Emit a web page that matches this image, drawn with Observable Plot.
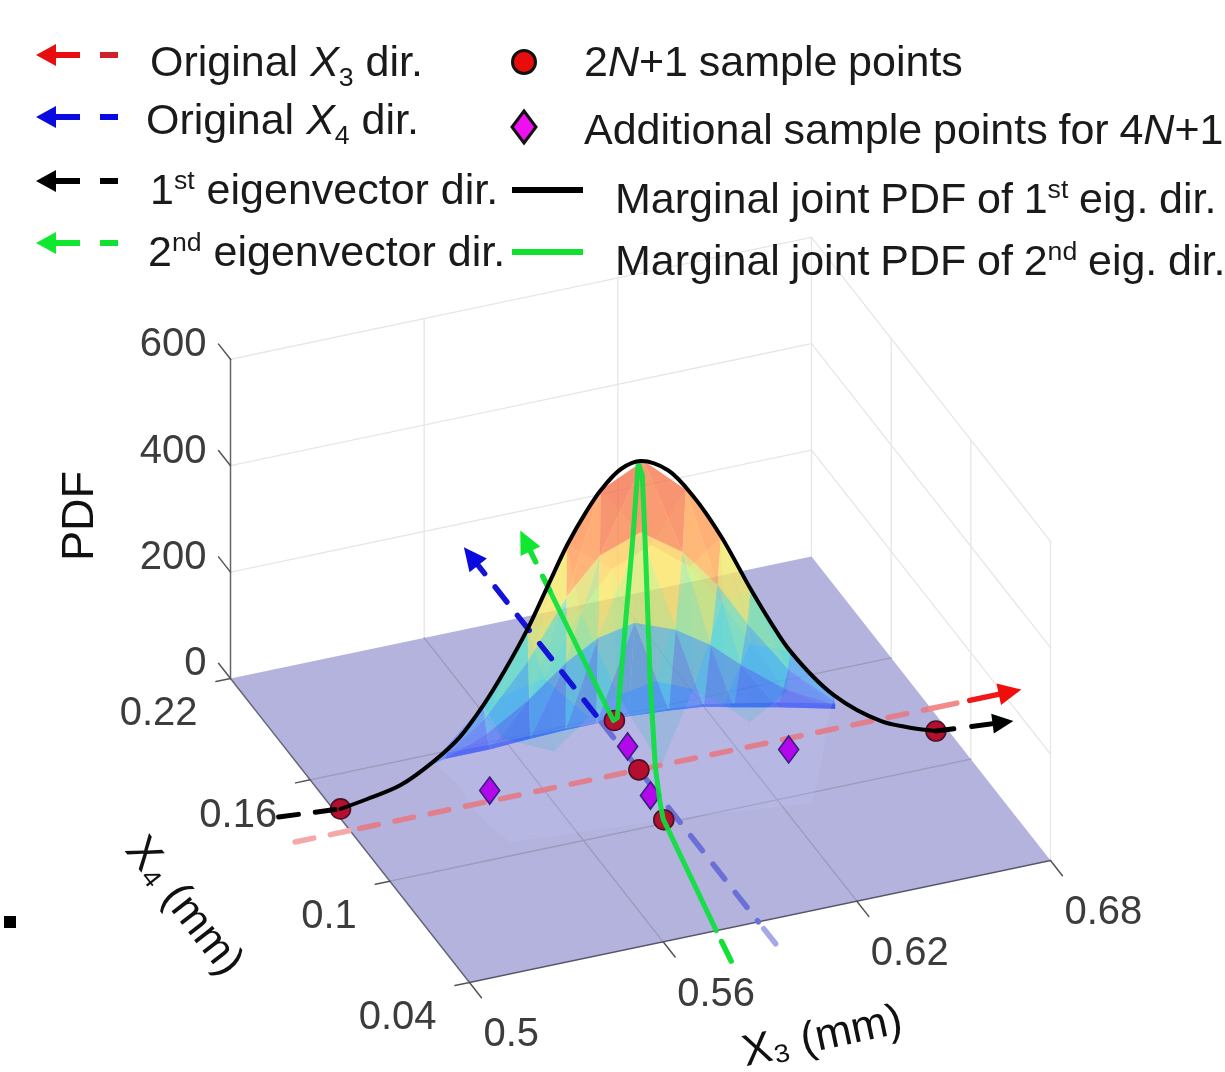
<!DOCTYPE html>
<html><head><meta charset="utf-8">
<script src="https://cdn.jsdelivr.net/npm/d3@7"></script>
<script src="https://cdn.jsdelivr.net/npm/@observablehq/plot@0.6"></script>
<style>
html,body{margin:0;padding:0;background:#fff;overflow:hidden;width:1225px;height:1072px}
#wrap{position:relative;width:1225px;height:1072px;overflow:hidden;font-family:"Liberation Sans",Arial,sans-serif;color:#1a1a1a;filter:blur(0.5px)}
#wrap svg{display:block}
.lg{position:absolute;white-space:nowrap;font-size:43px;line-height:50px;transform:translateY(-50%);margin-top:-1px}
.tight{word-spacing:-1.2px}
.lg sub,.lg sup{font-size:.62em;line-height:0}
#sw{position:absolute;left:0;top:0}
#sq{position:absolute;left:4px;top:916px;width:12px;height:12px;background:#000}
</style></head><body>
<div id="wrap"></div>
<script>
// ---- data (mm, mm, PDF) ----
const X3Ticks=[0.5,0.56,0.62,0.68];
const X4Ticks=[0.04,0.1,0.16,0.22];
const pdfTicks=[0,200,400,600];
const samplesX3=[0.502,0.5933,0.5895,0.5857,0.6766];
const samplesX4=[0.142,0.1577,0.130,0.102,0.118];
const extraX3=[0.5455,0.5914,0.5872,0.6336];
const extraX4=[0.1354,0.1431,0.1157,0.1244];
// positions along the 1st eigenvector line (0 and 1 = outer sample points) and marginal PDF
const eig1Pos=[0,0.045,0.101,0.156,0.2,0.24,0.277,0.314,0.348,0.3815,0.412,0.437,0.471,0.504,0.55,0.593,0.639,0.689,0.723,0.756,0.829,0.908,0.95,1];
const eig1Pdf=[0,12,30,66,105,160,222,292,368,442,497,535,570,580,556,500,419,312,244,185,92,32,15,0];
// positions along the 2nd eigenvector line and marginal PDF
const eig2Pos=[0.138,0.4368,0.4554,0.493,0.5305,0.554,0.5728,0.587,0.61,0.634,0.657,0.671,0.92];
const eig2Pdf=[0,0,20,224,429,580,572,450,216,73,24,6,0];
// coarse joint PDF surface
const surfT=[0.156,0.24,0.314,0.38,0.437,0.509,0.58,0.639,0.689,0.756,0.829];
const surfS=[0.4368,0.4554,0.493,0.5305,0.5494,0.587,0.61,0.634,0.657,0.671];
const surfPdf=[
[0,2,26,49,66,51,24,9,3,1],
[0,5,63,120,160,125,59,21,6,2],
[0,9,114,216,292,228,108,38,12,3],
[0,13,172,327,442,345,164,58,18,4],
[0,16,209,396,535,417,198,70,21,5],
[0,17,226,429,580,452,215,75,23,6],
[0,15,201,381,515,402,191,67,21,5],
[0,13,163,310,419,327,155,54,17,4],
[0,9,122,231,312,243,115,41,12,3],
[0,6,72,137,185,144,68,24,7,2],
[0,3,36,68,92,72,34,12,4,1]];
// rear cut-off edge of the surface on the floor, one point per row of surfPdf
const edgeX3=[0.5422,0.5553,0.5679,0.5786,0.5876,0.5971,0.6092,0.6195,0.6277,0.6399,0.6556];
const edgeX4=[0.1592,0.1587,0.1590,0.1588,0.1582,0.1585,0.1578,0.1566,0.1539,0.1496,0.1427];
// direction lines
const eig1Ends=[[0.502,0.142],[0.6766,0.118]];
const eig2Ends=[[0.608,0.2643],[0.5737,0.0205]];
const x4Const=0.13, x3Const=0.5895;

// ---- view (orthographic 3-D camera) ----
const U=v=>(v-0.5)/0.18, V=v=>(0.22-v)/0.18;
const P=(a,b,z=0)=>({x:230+U(a)*581+V(b)*239,y:678-U(a)*122+V(b)*304-z*0.532});
const lerp=(e,t)=>[e[0][0]+(e[1][0]-e[0][0])*t,e[0][1]+(e[1][1]-e[0][1])*t];
const E1=(t,z=0)=>{const q=lerp(eig1Ends,t);return P(q[0],q[1],z)};
const E2=(s,z=0)=>{const q=lerp(eig2Ends,s);return P(q[0],q[1],z)};
const T0=0.5008,S0=0.5494,SB=0.4368,SF=0.671;
const d2=[eig2Ends[1][0]-eig2Ends[0][0],eig2Ends[1][1]-eig2Ends[0][1]];
const vertex=(i,j)=>{
  const t=surfT[i],s=surfS[j],z=surfPdf[i][j];
  if(s<=S0){ // between the rear edge and the ridge
    const p=(s-SB)/(S0-SB),r=lerp(eig1Ends,t);
    return P(edgeX3[i]+(r[0]-edgeX3[i])*p,edgeX4[i]+(r[1]-edgeX4[i])*p,z);
  }
  const w=1-0.25*(s-S0)/(SF-S0),r=lerp(eig1Ends,T0+(t-T0)*w);
  return P(r[0]+(s-S0)*d2[0],r[1]+(s-S0)*d2[1],z);
};
// facets
const back=[],frontHi=[],frontLo=[];let id=0;
for(let i=0;i<surfT.length-1;i++)for(let j=0;j<surfS.length-1;j++){
  const c=[[i,j],[i+1,j],[i+1,j+1],[i,j+1]];
  const tris=i<5?[[0,1,2],[0,2,3]]:[[0,1,3],[1,2,3]];
  for(const tr of tris){
    const vs=tr.map(k=>c[k]);
    const v=d3.mean(vs,q=>surfPdf[q[0]][q[1]]);
    const tgt=j<4?back:(v<150?frontLo:frontHi);
    id++;
    for(const q of vs)tgt.push({...vertex(q[0],q[1]),id,v});
  }
}
const eig1Curve=eig1Pos.map((t,i)=>E1(t,eig1Pdf[i]));
const eig2Curve=eig2Pos.map((s,i)=>E2(s,eig2Pdf[i]));
const L=(pts,o)=>Plot.line(pts,{x:"x",y:"y",...o});
const seg=(a,b,o)=>L([a,b],o);
const grid={stroke:"#e6e6e6",strokeWidth:1.3};
const fg={stroke:"#9a9aba",strokeWidth:1.3};
const wallTop=600;
const headSym={draw(c,s){const r=Math.sqrt(s/Math.PI);c.moveTo(0,0);c.lineTo(-2.1*r,r);c.lineTo(-2.1*r,-r);c.closePath();}};
const diaSym={draw(c,s){const r=Math.sqrt(s/Math.PI);c.moveTo(0,-1.35*r);c.lineTo(r,0);c.lineTo(0,1.35*r);c.lineTo(-r,0);c.closePath();}};
const head=(from,tip,color,r=10)=>Plot.dot([tip],{x:"x",y:"y",r,symbol:headSym,fill:color,stroke:"none",rotate:Math.atan2(tip.y-from.y,tip.x-from.x)*180/Math.PI});

const x4Lab=b=>P(0.5,b), x3Lab=a=>P(a,0.04);
const chart=Plot.plot({
  width:1225,height:1072,margin:0,
  x:{domain:[0,1225],range:[0,1225],axis:null},
  y:{domain:[0,1072],range:[0,1072],axis:null},
  color:{type:"linear",domain:[0,70,130,200,270,340,420,580],range:["#2e40f2","#3a6ef6","#38aaf2","#4ce2dc","#b8f27c","#ffe860","#ff9a50","#ec5040"]},
  marks:[
    // walls
    ...pdfTicks.slice(1).map(z=>seg(P(0.5,0.22,z),P(0.68,0.22,z),grid)),
    ...pdfTicks.slice(1).map(z=>seg(P(0.68,0.22,z),P(0.68,0.04,z),grid)),
    ...X3Ticks.slice(1).map(a=>seg(P(a,0.22),P(a,0.22,wallTop),grid)),
    ...X4Ticks.slice(0,-1).map(b=>seg(P(0.68,b),P(0.68,b,wallTop),grid)),
    // floor
    L([P(0.5,0.22),P(0.68,0.22),P(0.68,0.04),P(0.5,0.04)],{fill:"#b3b3dd",stroke:"none"}),
    ...X3Ticks.slice(1,-1).map(a=>seg(P(a,0.22),P(a,0.04),fg)),
    ...X4Ticks.slice(1,-1).map(b=>seg(P(0.5,b),P(0.68,b),fg)),
    seg(P(0.5,0.22),P(0.5,0.04),{stroke:"#66667a",strokeWidth:1.5}),
    seg(P(0.5,0.04),P(0.68,0.04),{stroke:"#55556a",strokeWidth:1.5}),
    seg(P(0.5,0.22),P(0.5,0.22,wallTop),{stroke:"#666",strokeWidth:1.5}),
    // ticks
    ...X3Ticks.map(a=>seg(P(a,0.04),P(a,0.031),{stroke:"#555",strokeWidth:1.5})),
    ...X4Ticks.map(b=>seg(P(0.5,b),P(0.4955,b),{stroke:"#555",strokeWidth:1.5})),
    ...pdfTicks.map(z=>seg(P(0.5,0.22,z),P(0.5,0.229,z),{stroke:"#555",strokeWidth:1.5})),
    // surface
    L(back,{z:"id",fill:"v",stroke:"none",fillOpacity:0.72}),
    L(frontLo,{z:"id",fill:"#c4c8ff",stroke:"none",fillOpacity:0.2}),
    L(frontHi,{z:"id",fill:"v",stroke:"none",fillOpacity:0.2}),
    // X3 direction
    seg(P(0.483,x4Const),P(0.5,x4Const),{stroke:"#f4a9a9",strokeWidth:5.5,strokeDasharray:"19 17"}),
    seg(P(0.503,x4Const),P(0.68,x4Const),{stroke:"#e0808f",strokeWidth:5.5,strokeDasharray:"19 17"}),
    seg(P(0.68,x4Const),P(0.688,x4Const),{stroke:"#f38a8a",strokeWidth:5.5}),
    seg(P(0.692,x4Const),P(0.702,x4Const),{stroke:"#f01818",strokeWidth:5.5}),
    head(P(0.69,x4Const),P(0.708,x4Const),"#f20d0d",11),
    // X4 direction
    seg(P(x3Const,0.255),P(x3Const,0.158),{stroke:"#1414d8",strokeWidth:5.5,strokeDasharray:"19 17"}),
    seg(P(x3Const,0.158),P(x3Const,0.04),{stroke:"#6c70d6",strokeWidth:5.5,strokeDasharray:"19 17"}),
    seg(P(x3Const,0.036),P(x3Const,0.027),{stroke:"#a6a8e8",strokeWidth:5.5}),
    head(P(x3Const,0.25),P(x3Const,0.2618),"#0a0ae0",11),
    // samples
    Plot.dot(samplesX3.map((a,i)=>P(a,samplesX4[i])),{x:"x",y:"y",r:10,fill:"#b40f2e",stroke:"#4a1028",strokeWidth:1.6}),
    Plot.dot(extraX3.map((a,i)=>P(a,extraX4[i])),{x:"x",y:"y",r:10,symbol:diaSym,fill:"#b408ec",stroke:"#3a2080",strokeWidth:1.6}),
    // 2nd eigenvector
    L([E2(0.035),E2(0.138)],{stroke:"#14e036",strokeWidth:5.5,strokeDasharray:"18 16"}),
    L([E2(0.945),E2(0.99)],{stroke:"#14e036",strokeWidth:5.5}),
    head(E2(0.02),E2(0),"#10e830",11),
    L(eig2Curve,{stroke:"#0ce13e",strokeWidth:5,strokeOpacity:0.92,strokeLinejoin:"round"}),
    // 1st eigenvector
    L(eig1Curve,{stroke:"#000",strokeWidth:4,curve:"catmull-rom"}),
    L([E1(-0.104),E1(0)],{stroke:"#000",strokeWidth:5,strokeDasharray:"20 17"}),
    L([E1(1),E1(1.03)],{stroke:"#000",strokeWidth:5}),
    L([E1(1.06),E1(1.115)],{stroke:"#000",strokeWidth:5}),
    head(E1(1.1),E1(1.13),"#000",10),
    // tick labels
    Plot.text(pdfTicks.map(z=>({...P(0.5,0.22,z),t:String(z)})),{x:"x",y:"y",text:"t",textAnchor:"end",dx:-24,dy:-16,fontSize:40,fill:"#3c3c3c"}),
    Plot.text(X3Ticks.map(a=>({...x3Lab(a),t:String(a)})),{x:"x",y:"y",text:"t",textAnchor:"start",dx:14,dy:51,fontSize:40,fill:"#3c3c3c"}),
    Plot.text(X4Ticks.map(b=>({...x4Lab(b),t:String(b)})),{x:"x",y:"y",text:"t",textAnchor:"end",dx:-33,dy:34,fontSize:40,fill:"#3c3c3c"}),
    // axis titles
    Plot.text([{...P(0.5,0.22,300),t:"PDF"}],{x:"x",y:"y",text:"t",rotate:-90,dx:-152,dy:-3,fontSize:45,fill:"#111"}),
    Plot.text([{...P(0.59,0.04),t:"X₃ (mm)"}],{x:"x",y:"y",text:"t",rotate:-12,dx:62,dy:114,fontSize:44,fill:"#111"}),
    Plot.text([{...P(0.5,0.13),t:"X₄ (mm)"}],{x:"x",y:"y",text:"t",rotate:52,dx:-165,dy:75,fontSize:44,fill:"#111"})
  ]
});
chart.style.fontFamily='"Liberation Sans",Arial,sans-serif';
chart.style.background="#fff";
const wrap=document.getElementById("wrap");
wrap.appendChild(chart);

// ---- legend ----
const legendItems=[
 [150,62,'Original <i>X</i><sub>3</sub> dir.'],
 [146,120,'Original <i>X</i><sub>4</sub> dir.'],
 [150,190,'1<sup>st</sup> eigenvector dir.'],
 [148,252,'2<sup>nd</sup> eigenvector dir.'],
 [584,62,'2<i>N</i>+1 sample points'],
 [584,130,'Additional sample points for 4<i>N</i>+1'],
 [615,199,'Marginal joint PDF of 1<sup>st</sup> eig. dir.'],
 [615,261,'Marginal joint PDF of 2<sup>nd</sup> eig. dir.']
];
const dirSwatches=[[55,"#e60e0e","#d0202a"],[117,"#0a0ae0","#0a0ae0"],[181,"#000","#000"],[243,"#10e830","#10e030"]];
let s='<svg id="sw" width="620" height="280">';
for(const [y,c,c2] of dirSwatches){
 s+=`<path d="M36 ${y}L56 ${y-11}L56 ${y-3}L80 ${y-3}L80 ${y+3}L56 ${y+3}L56 ${y+11}Z" fill="${c}"/><rect x="100" y="${y-3}" width="18" height="6" fill="${c2}"/>`;
}
s+='<circle cx="524" cy="62" r="11.5" fill="#e80c0c" stroke="#111" stroke-width="3"/>';
s+='<path d="M524 111L536 127L524 143L512 127Z" fill="#ee10ee" stroke="#111" stroke-width="3"/>';
s+='<rect x="512" y="187" width="71" height="6" fill="#000"/><rect x="512" y="249" width="71" height="6" fill="#10e030"/></svg>';
const lg=document.createElement("div");lg.innerHTML=s+legendItems.map(([l,t,h])=>`<div class="lg${l>500?" tight":""}" style="left:${l}px;top:${t}px">${h}</div>`).join("")+'<div id="sq"></div>';
wrap.appendChild(lg);
</script>
</body></html>
